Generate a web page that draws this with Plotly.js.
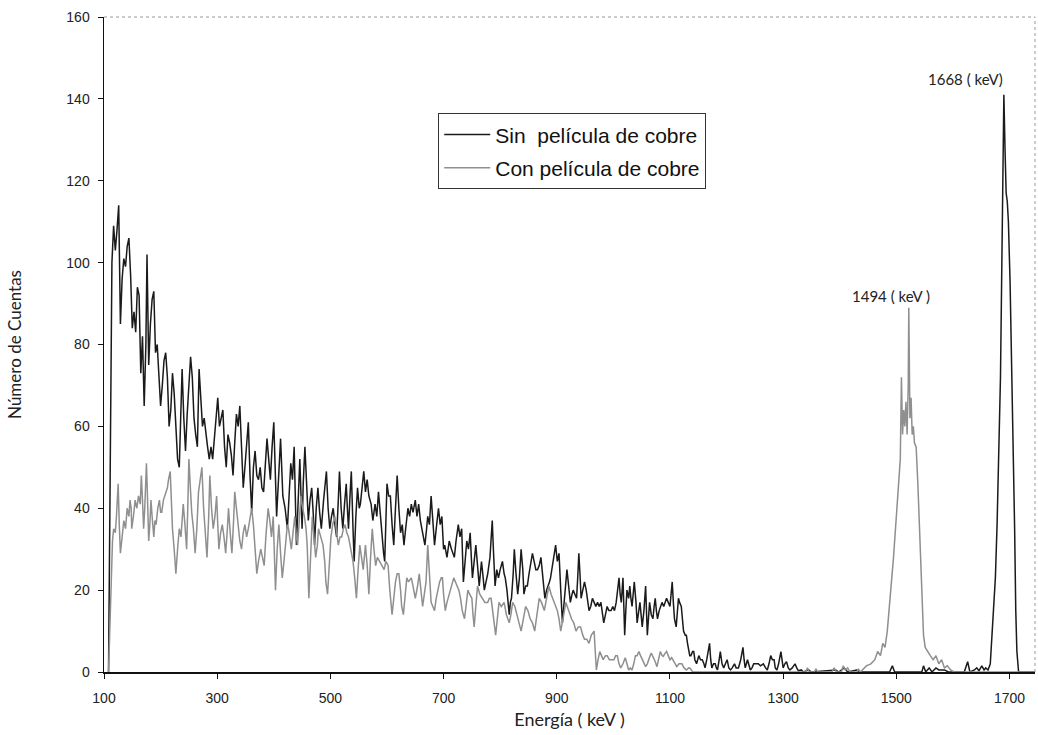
<!DOCTYPE html>
<html>
<head>
<meta charset="utf-8">
<script src="https://cdn.plot.ly/plotly-3.0.1.min.js"></script>
<style>html,body{margin:0;padding:0;background:#fff;}#chart{width:1038px;height:735px;}</style>
</head>
<body>
<div id="chart"></div>
<script>
// [energy keV, counts]
const sinPelicula = [
[108,0],[111,55],[114,100],[117,109],[120,103],[123,108],[126,114],[129,85],[132,96],[135,101],[138,99],[141,104],[144,106],[147,97],[150,84],[153,88],[156,83],[159,94],[162,92],[165,73],[168,82],[171,65],[174,80],[176,102],[179,75],[182,85],[185,91],[188,93],[191,78],[194,80],[197,72],[200,65],[203,70],[206,76],[209,78],[212,72],[215,60],[218,64],[221,73],[224,68],[227,60],[230,52],[233,50],[236,65],[238,74],[241,62],[244,54],[247,63],[250,70],[253,77],[256,72],[259,62],[262,58],[265,55],[268,74],[271,66],[274,60],[277,62],[280,58],[283,55],[286,52],[289,55],[292,52],[295,57],[298,60],[301,67],[304,60],[307,62],[310,64],[313,55],[316,50],[319,58],[322,56],[325,53],[328,48],[331,56],[334,63],[337,60],[340,65],[343,55],[346,45],[349,50],[352,57],[355,61],[358,48],[361,39],[364,50],[367,54],[370,48],[373,47],[376,50],[379,45],[382,44],[385,52],[388,57],[391,52],[394,47],[397,55],[400,61],
[405,38],[409,50],[412,57],[416,43],[420,40],[424,35],[427,45],[430,51],[433,47],[436,55],[440,31],[443,42],[446,52],[450,35],[452,46],[455,55],[458,44],[461,37],[464,42],[467,45],[470,38],[472,31],[475,40],[478,45],[481,39],[484,35],[488,42],[493,49],[496,40],[499,35],[502,38],[505,40],[508,36],[511,33],[514,42],[516,49],[519,40],[522,35],[525,41],[528,46],[530,40],[532,35],[535,44],[537,49],[540,35],[542,27],[545,38],[548,45],[551,40],[553,41],[556,45],[559,49],[562,44],[565,47],[568,43],[572,41],[575,37],[579,41],[582,38],[585,44],[588,39],[591,33],[594,29],[596,27],[598,38],[600,46],[603,43],[606,43],[609,36],[612,31],[615,40],[618,48],[621,40],[624,34],[627,36],[630,31],[633,35],[637,40],[640,38],[643,41],[646,39],[650,42],[653,38],[656,41],[659,37],[662,35],[665,33],[667,31],[670,35],[672,38],[675,36],[678,43],[681,37],[684,31],[687,35],[691,40],[694,36],[697,38],[700,30],
[702,31],[706,28],[710,32],[714,30],[719,28],[722,32],[726,36],[729,33],[732,35],[735,22],[738,28],[741,32],[744,30],[747,34],[749,28],[751,23],[754,27],[757,31],[760,26],[763,21],[765,24],[767,27],[770,23],[772,20],[775,22],[778,24],[782,28],[786,37],[788,30],[791,21],[794,25],[797,23],[800,25],[804,27],[807,24],[809,23],[812,20],[816,14],[818,17],[820,18],[823,24],[825,30],[828,24],[831,19],[834,23],[837,30],[840,25],[842,19],[845,21],[848,21],[851,24],[854,27],[857,29],[860,27],[863,25],[866,25],[869,26],[872,28],[875,24],[879,18],[882,20],[885,21],[887,22],[889,23],[892,26],[895,28],[898,31],[901,27],[904,29],[907,20],[910,12],[913,17],[915,21],[918,25],[921,21],[924,17],[927,19],[929,20],[932,19],[935,18],[937,23],[939,29],[941,24],[943,18],[946,20],[949,22],[952,20],[955,17],[957,15],[960,16],[963,18],[966,17],[969,16],[972,17],[975,16],[978,17],[981,14],[983,12],[986,14],[989,16],[992,15],[996,15],[999,16],
[1002,15],[1005,17],[1008,20],[1010,23],[1012,19],[1014,17],[1017,23],[1020,9],[1022,15],[1024,20],[1027,18],[1029,21],[1031,18],[1033,16],[1035,19],[1037,22],[1040,17],[1042,12],[1044,14],[1047,17],[1049,14],[1051,11],[1054,15],[1057,21],[1060,9],[1062,13],[1064,17],[1067,14],[1070,13],[1072,16],[1074,18],[1076,15],[1078,13],[1081,15],[1084,16],[1086,17],[1089,16],[1092,17],[1094,18],[1097,17],[1100,16],[1102,19],[1104,22],[1106,17],[1108,13],[1111,11],[1113,15],[1115,18],[1117,17],[1120,16],[1122,13],[1124,10],[1127,9],[1129,9],[1131,7],[1133,5],[1135,4],[1137,4],[1140,5],[1142,5],[1144,3],[1147,2],[1149,3],[1151,4],[1154,3],[1157,3],[1160,2],[1162,1],[1165,3],[1168,6],[1170,7],[1172,3],[1174,1],[1177,2],[1180,2],[1182,1],[1184,0.5],[1187,3],[1189,5],[1192,2],[1195,1],[1198,2],[1201,3],[1204,1],[1207,0.5],[1210,1],[1214,2],[1217,1],[1221,1],[1225,3],[1229,6],[1231,3],[1233,1],[1237,3],[1240,1],[1242,0.5],[1245,1],[1248,2],[1252,2],[1256,2],[1260,1.5],[1265,2],[1269,1],[1272,0.5],[1275,2],[1278,4],[1281,3],[1284,3],[1286,1],[1289,0.5],[1292,2],[1296,5],[1298,3],[1300,1],[1303,2],[1306,2.5],[1309,1],[1312,0.5],[1316,1],[1321,2],[1324,1],[1327,0.3],[1332,0.5],[1336,0],
[1345,0.5],[1350,0],[1393,0.5],[1398,0],[1408,1],[1414,0],[1430,0.5],[1436,0],[1488,0],[1493,1.5],[1497,0],[1545,0],[1548,1.5],[1552,0],[1558,1],[1563,0],[1570,1],[1575,0.5],[1585,0.5],[1592,0],[1620,0],[1626,2.5],[1630,0],[1638,0.5],[1642,1],[1646,0.3],[1651,1.5],[1655,0.5],[1658,1],
[1662,0.5],[1666,2],[1669,9],[1672,15],[1675,23],[1678,36],[1681,52],[1684,72],[1686,95],[1688,125],[1690,141],[1692,128],[1694,117],[1696,115],[1698,110],[1701,95],[1704,75],[1707,56],[1709,35],[1711,15],[1713,5],[1716,0],[1745,0]
];

const conPelicula = [
[108,0],[112,20],[115,32],[117,35],[120,34],[122,38],[125,46],[127,36],[129,29],[132,33],[135,37],[138,35],[141,40],[144,38],[146,42],[148,40],[149,35],[152,38],[155,42],[158,40],[161,43],[164,41],[166,48],[168,42],[170,35],[172,40],[175,51],[177,42],[179,32],[181,36],[183,42],[185,38],[188,33],[190,37],[192,36],[195,40],[198,42],[200,39],[202,39],[205,42],[209,44],[212,45],[214,47],[217,49],[219,42],[221,35],[224,30],[227,24],[230,30],[233,35],[236,33],[238,38],[240,41],[243,36],[246,30],[248,40],[250,52],[253,44],[255,39],[258,35],[261,29],[264,35],[267,44],[270,47],[273,50],[276,40],[279,33],[282,28],[285,38],[287,48],[290,40],[293,35],[296,38],[299,43],[301,36],[303,30],[306,34],[309,36],[312,33],[315,29],[318,35],[320,40],[323,34],[326,29],[329,37],[331,44],[334,40],[337,35],[340,32],[343,30],[346,34],[349,36],[352,33],[355,35],[358,38],[361,40],[364,36],[367,30],[370,24],[373,27],[377,30],[380,28],[383,26],[386,33],[390,40],[393,37],[396,33],[399,38],
[403,20],[406,30],[409,36],[412,29],[415,23],[418,27],[421,31],[424,36],[426,35],[429,32],[431,30],[434,34],[437,38],[440,33],[442,31],[445,37],[448,43],[451,40],[454,38],[457,35],[459,31],[462,18],[465,28],[468,38],[471,33],[474,28],[477,31],[479,35],[483,33],[487,31],[490,27],[492,22],[495,19],[498,27],[501,33],[504,36],[508,38],[511,34],[514,31],[517,33],[520,33],[523,35],[526,36],[529,34],[532,33],[536,30],[540,27],[543,23],[546,18],[549,25],[552,31],[555,28],[558,25],[560,28],[562,31],[565,26],[568,19],[571,28],[574,35],[577,30],[580,26],[583,28],[587,27],[591,26],[595,25],[598,27],[602,26],[605,20],[609,14],[612,18],[615,22],[618,24],[621,24],[624,20],[626,16],[629,14],[632,19],[635,23],[638,22],[643,23],[646,21],[650,18],[654,21],[657,24],[660,20],[663,16],[666,19],[669,22],[672,31],[675,22],[678,17],[681,16],[684,15],[687,18],[690,20],[693,22],[696,23],[698,23],
[700,19],[703,15],[706,17],[710,19],[714,21],[718,23],[721,22],[724,21],[727,20],[730,18],[733,15],[737,13],[740,17],[743,20],[746,19],[750,18],[752,14],[754,11],[757,16],[760,21],[764,19],[769,18],[773,17],[778,17],[781,18],[784,18],[788,14],[792,9],[795,13],[798,17],[802,16],[807,17],[811,14],[816,12],[819,14],[822,17],[826,16],[830,14],[833,12],[837,10],[841,13],[845,16],[849,15],[853,13],[857,12],[861,10],[865,14],[869,18],[873,17],[878,15],[882,18],[886,21],[890,19],[895,17],[898,16],[901,15],[904,13],[907,10],[911,13],[916,17],[921,15],[926,13],[930,12],[934,10],[938,11],[942,11],[946,9],[949,8],[953,8],[957,7],[961,9],[966,10],[968,5],[970,0.5],[973,3],[976,5],[979,4],[982,3],[986,4],[989,4],[993,3],[998,3],
[1001,3],[1004,4],[1007,4],[1010,2],[1013,1],[1017,2],[1021,3.5],[1024,2],[1027,0.5],[1030,1],[1033,0.5],[1036,2],[1039,4],[1042,4],[1045,5],[1048,4],[1051,3],[1054,2],[1057,1.3],[1060,2],[1062,3],[1065,4],[1067,4.6],[1069,4],[1071,3.8],[1074,2.5],[1077,1.3],[1080,3],[1083,5],[1086,4],[1088,3.8],[1091,4.5],[1094,5],[1097,4],[1100,3],[1103,3.5],[1105,3],[1109,2],[1112,1.3],[1116,2],[1121,2],[1125,1],[1129,0.5],[1133,1],[1136,0.9],[1140,0],
[1340,0],[1343,1],[1346,0],[1355,0],[1358,0.8],[1361,0],[1386,0],[1390,1],[1394,0],[1403,0],[1406,1.5],[1410,0.5],[1414,1],[1418,0],[1430,0],[1433,0.8],[1436,0],
[1440,0.5],[1447,1.5],[1455,2],[1462,3],[1467,5],[1472,4],[1476,7],[1480,6],[1484,10],[1488,16],[1492,22],[1495,28],[1498,34],[1501,40],[1504,45],[1507,52],[1509,72],[1511,58],[1513,64],[1515,60],[1517,66],[1519,58],[1521,70],[1522,89],[1524,62],[1526,67],[1528,58],[1530,60],[1532,56],[1535,55],[1538,46],[1541,34],[1543,24],[1545,17],[1548,9],[1551,6],[1555,5],[1560,4],[1565,3],[1570,4],[1575,2],[1580,3],[1585,1],[1590,1.5],[1596,0.5],[1602,0],[1745,0]
];

const xTickVals = [100, 300, 500, 700, 900, 1100, 1300, 1500, 1700];
const yTickVals = [0, 20, 40, 60, 80, 100, 120, 140, 160];
const seriesNames = ['Sin\u00a0\u00a0película de cobre', 'Con película de cobre'];
const peakLabels = [
  {text: '1668 ( keV)', x: 1623, y: 144.8},
  {text: '1494 ( keV )', x: 1490, y: 91.8}
];

const traces = [
  {x: sinPelicula.map(p => p[0]), y: sinPelicula.map(p => p[1]), name: seriesNames[0],
   type: 'scatter', mode: 'lines', line: {color: '#1a1a1a', width: 1.5}, legendgroup: 'a'},
  {x: conPelicula.map(p => p[0]), y: conPelicula.map(p => p[1]), name: seriesNames[1],
   type: 'scatter', mode: 'lines', line: {color: '#8f8f8f', width: 1.5}, legendgroup: 'b'}
];

const layout = {
  width: 1038, height: 735,
  margin: {l: 104, r: 3, t: 17, b: 63},
  paper_bgcolor: '#fff', plot_bgcolor: '#fff',
  showlegend: true,
  legend: {
    x: 0.359, y: 0.853, xanchor: 'left', yanchor: 'top',
    bgcolor: '#fff', bordercolor: '#333', borderwidth: 1,
    font: {family: 'Liberation Sans, Arial, sans-serif', size: 21, color: '#111'},
    traceorder: 'grouped', tracegroupgap: 3, itemwidth: 46
  },
  xaxis: {
    range: [100, 1745], tickvals: xTickVals, ticktext: xTickVals.map(String),
    showgrid: false, zeroline: false, showline: true, linecolor: '#111', linewidth: 1.5,
    ticks: 'outside', ticklen: 5, tickcolor: '#111', ticklabelstandoff: 8,
    tickfont: {family: 'Liberation Sans, Arial, sans-serif', size: 14, color: '#222'},
    title: {text: 'Energía ( keV )', standoff: 8, font: {family: 'Lato, Open Sans, sans-serif', size: 18, color: '#222'}}
  },
  yaxis: {
    range: [0, 160], tickvals: yTickVals, ticktext: yTickVals.map(String),
    showgrid: false, zeroline: false, showline: true, linecolor: '#111', linewidth: 1.5,
    ticks: 'outside', ticklen: 5, tickcolor: '#111', ticklabelstandoff: 5,
    tickfont: {family: 'Liberation Sans, Arial, sans-serif', size: 14, color: '#222'},
    title: {text: 'Número de Cuentas', standoff: 40, font: {family: 'Lato, Open Sans, sans-serif', size: 17, color: '#222'}}
  },
  shapes: [
    {type: 'line', xref: 'paper', yref: 'paper', x0: 0, x1: 1, y0: 1, y1: 1, line: {color: '#9a9a9a', width: 1, dash: 'dot'}},
    {type: 'line', xref: 'paper', yref: 'paper', x0: 1, x1: 1, y0: 0, y1: 1, line: {color: '#9a9a9a', width: 1, dash: 'dot'}}
  ],
  annotations: peakLabels.map(a => ({
    x: a.x, y: a.y, xref: 'x', yref: 'y', text: a.text, showarrow: false,
    font: {family: 'Lato, Open Sans, sans-serif', size: 15, color: '#222'}
  }))
};

Plotly.newPlot('chart', traces, layout, {displayModeBar: false, staticPlot: true});
</script>
</body>
</html>
